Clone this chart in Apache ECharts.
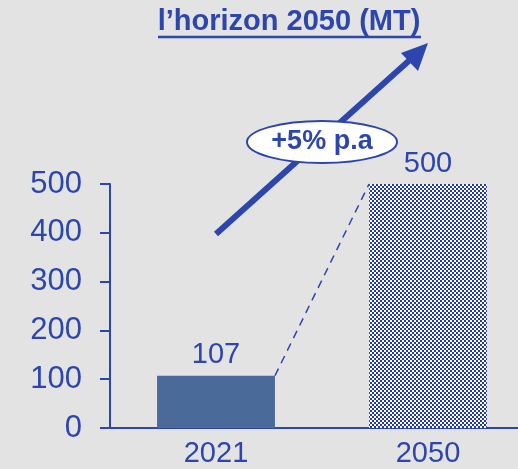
<!DOCTYPE html>
<html>
<head>
<meta charset="utf-8">
<script src="https://cdn.jsdelivr.net/npm/echarts@6/dist/echarts.min.js"></script>
<style>
html,body{margin:0;padding:0;background:#e3e3e3;}
#chart{width:518px;height:469px;}
</style>
</head>
<body>
<div id="chart"></div>
<script>
var categories = ['2021', '2050'];
var values = [107, 500];
var yTicks = [0, 100, 200, 300, 400, 500];
var titleText = 'l\u2019horizon 2050 (MT)';
var growthText = '+5% p.a';

var BLUE = '#2c46ad';
var FONT = '"Liberation Sans", Arial, sans-serif';
var BAR_RATIO = 0.556;

// checker pattern for the 2050 bar
var pat = document.createElement('canvas');
pat.width = 4; pat.height = 4;
var pc = pat.getContext('2d');
pc.fillStyle = '#ffffff'; pc.fillRect(0, 0, 4, 4);
pc.fillStyle = '#2038a8';
pc.fillRect(0, 0, 2, 2); pc.fillRect(2, 2, 2, 2);

var chart = echarts.init(document.getElementById('chart'));

var barData = values.map(function (v, i) {
  return i === 0
    ? { value: v, itemStyle: { color: '#4a6a9a' } }
    : { value: v, itemStyle: { color: { image: pat, repeat: 'repeat' } } };
});

chart.setOption({
  backgroundColor: '#e3e3e3',
  animation: false,
  grid: { left: 110, width: 424, top: 184, bottom: 41, containLabel: false, outerBoundsMode: 'none' },
  xAxis: {
    type: 'category',
    data: categories,
    axisLine: { show: true, lineStyle: { color: BLUE, width: 2 } },
    axisTick: { show: false },
    axisLabel: { color: BLUE, fontSize: 29, fontFamily: FONT, margin: 11 }
  },
  yAxis: {
    type: 'value',
    min: yTicks[0],
    max: yTicks[yTicks.length - 1],
    interval: 100,
    splitLine: { show: false },
    axisLine: { show: true, lineStyle: { color: BLUE, width: 2 } },
    axisTick: { show: true, inside: false, length: 10, lineStyle: { color: BLUE, width: 2 } },
    axisLabel: { color: BLUE, fontSize: 31, fontFamily: FONT, margin: 28 }
  },
  series: [
    {
      type: 'bar',
      data: barData,
      barWidth: (BAR_RATIO * 100) + '%',
      label: { show: true, position: 'top', distance: 6, color: BLUE, fontSize: 29, fontFamily: FONT }
    },
    {
      type: 'custom',
      data: [[0, values[0], 1, values[1]]],
      encode: { x: [0, 2], y: [1, 3] },
      z: 3,
      renderItem: function (params, api) {
        var p0 = api.coord([api.value(0), api.value(1)]);
        var p1 = api.coord([api.value(2), api.value(3)]);
        var half = api.size([1, 0])[0] * BAR_RATIO / 2;
        return {
          type: 'line',
          shape: { x1: p0[0] + half, y1: p0[1], x2: p1[0] - half, y2: p1[1] },
          style: { stroke: BLUE, lineWidth: 1.5, lineDash: [8, 6] }
        };
      }
    }
  ],
  graphic: [
    {
      type: 'text', x: 289, y: 7,
      style: { text: titleText, fill: BLUE, font: 'bold 29px ' + FONT, align: 'center' }
    },
    {
      type: 'line', shape: { x1: 158, y1: 37, x2: 421, y2: 37 },
      style: { stroke: BLUE, lineWidth: 2.5 }
    },
    {
      type: 'line', shape: { x1: 216, y1: 234, x2: 412, y2: 58 },
      style: { stroke: BLUE, lineWidth: 6 }
    },
    {
      type: 'polygon', shape: { points: [[428, 43], [401, 53], [418, 71]] },
      style: { fill: BLUE }
    },
    {
      type: 'ellipse', shape: { cx: 322, cy: 142, rx: 75, ry: 21 },
      style: { fill: '#ffffff', stroke: BLUE, lineWidth: 2 }, z: 10
    },
    {
      type: 'text', x: 322, y: 142, z: 11,
      style: { text: growthText, fill: BLUE, font: 'bold 27px ' + FONT, align: 'center', verticalAlign: 'middle' }
    }
  ]
});
</script>
</body>
</html>
